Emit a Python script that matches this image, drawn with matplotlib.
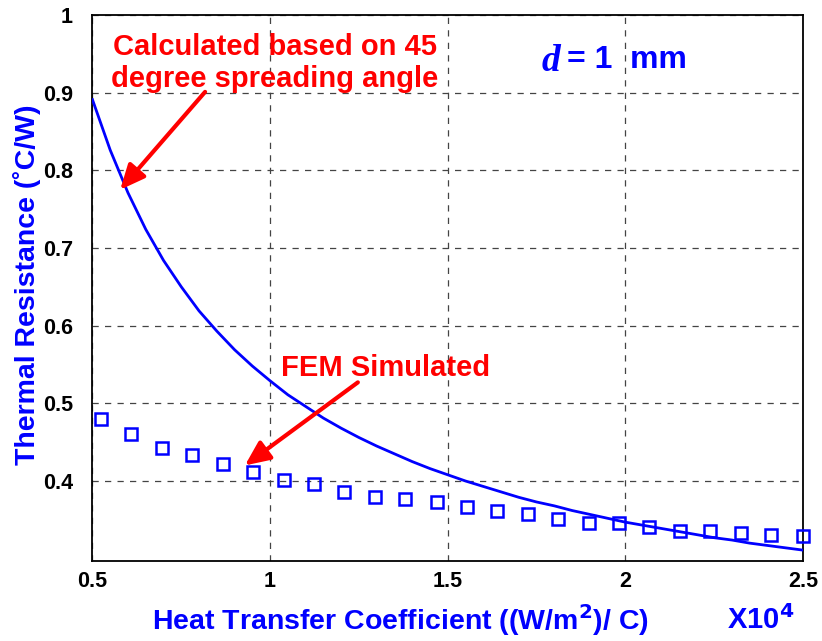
import matplotlib
matplotlib.use("Agg")
import matplotlib.pyplot as plt

plt.rcParams['font.family'] = ['Liberation Sans', 'DejaVu Sans']

# Calculated curve (45 degree spreading angle), h in units of 1e4 W/m^2/C
calc_h = [0.50, 0.55, 0.60, 0.65, 0.70, 0.75, 0.80, 0.85, 0.90, 0.95, 1.00,
          1.05, 1.10, 1.15, 1.20, 1.25, 1.30, 1.35, 1.40, 1.45, 1.50, 1.55,
          1.60, 1.65, 1.70, 1.75, 1.80, 1.85, 1.90, 1.95, 2.00, 2.05, 2.10,
          2.15, 2.20, 2.25, 2.30, 2.35, 2.40, 2.45, 2.50]
calc_r = [0.891, 0.826, 0.771, 0.724, 0.684, 0.650, 0.619, 0.593, 0.569, 0.548,
          0.529, 0.511, 0.496, 0.481, 0.468, 0.456, 0.445, 0.435, 0.425, 0.416,
          0.408, 0.400, 0.393, 0.386, 0.379, 0.373, 0.368, 0.362, 0.357, 0.352,
          0.347, 0.343, 0.339, 0.335, 0.331, 0.327, 0.324, 0.320, 0.317, 0.314,
          0.311]

# FEM simulated points
fem_h = [0.523, 0.608, 0.695, 0.780, 0.868, 0.951, 1.040, 1.124, 1.209, 1.295,
         1.380, 1.469, 1.554, 1.638, 1.726, 1.810, 1.898, 1.982, 2.067, 2.154,
         2.238, 2.326, 2.410, 2.499]
fem_r = [0.480, 0.461, 0.443, 0.434, 0.422, 0.412, 0.401, 0.396, 0.386, 0.380,
         0.377, 0.373, 0.366, 0.361, 0.357, 0.351, 0.346, 0.346, 0.341, 0.336,
         0.335, 0.333, 0.331, 0.329]

x_ticks = [0.5, 1, 1.5, 2, 2.5]
x_tick_labels = ["0.5", "1", "1.5", "2", "2.5"]
y_ticks = [0.4, 0.5, 0.6, 0.7, 0.8, 0.9, 1.0]
y_tick_labels = ["0.4", "0.5", "0.6", "0.7", "0.8", "0.9", "1"]

BLUE = "#0000ff"
RED = "#ff0000"

fig = plt.figure(figsize=(8.22, 6.41), dpi=100)
ax = fig.add_axes([0.1125, 0.1248, 0.8644, 0.8518])

ax.plot(calc_h, calc_r, color=BLUE, lw=2.0, zorder=3)
ax.plot(fem_h, fem_r, linestyle="none", marker="s", markersize=8.5,
        markerfacecolor="none", markeredgecolor=BLUE, markeredgewidth=1.8,
        zorder=4, clip_on=False)

ax.set_xlim(0.5, 2.5)
ax.set_ylim(0.297, 1.0)
ax.set_xticks(x_ticks)
ax.set_xticklabels(x_tick_labels)
ax.set_yticks(y_ticks)
ax.set_yticklabels(y_tick_labels)
ax.tick_params(axis="y", length=0, pad=14, labelsize=15.5)
ax.tick_params(axis="x", length=0, pad=7, labelsize=15.5)
for lab in ax.get_xticklabels() + ax.get_yticklabels():
    lab.set_fontweight("bold")

ax.grid(True, color="#444444", linestyle=(0, (5, 5)), linewidth=0.9)
for s in ax.spines.values():
    s.set_linewidth(1.3)
    s.set_color("black")

fig.text(0.033, 0.555, "Thermal Resistance (\u02daC/W)", color=BLUE,
         fontsize=20.5, fontweight="bold", rotation=90,
         ha="center", va="center")
fig.text(0.185, 0.033,
         "Heat Transfer Coefficient ((W/m$^{\\mathbf{2}}$)/ C)",
         color=BLUE, fontsize=20.5, fontweight="bold", ha="left",
         va="center")
fig.text(0.884, 0.033, "X10$^{\\mathbf{4}}$", color=BLUE, fontsize=21,
         fontweight="bold", ha="left", va="center")

# d = 1 mm
ax.text(0.632, 0.915, "d", transform=ax.transAxes, color=BLUE, fontsize=27,
        family="Liberation Serif", style="italic", fontweight="bold",
        ha="left", va="center")
ax.text(0.668, 0.918, "= 1  mm", transform=ax.transAxes, color=BLUE,
        fontsize=23, fontweight="bold", ha="left", va="center")

# Annotation texts
ax.text(1.013, 0.938, "Calculated based on 45\ndegree spreading angle",
        color=RED, fontsize=21, fontweight="bold", ha="center", va="center",
        linespacing=1.2)
ax.text(1.325, 0.545, "FEM Simulated", color=RED, fontsize=21,
        fontweight="bold", ha="center", va="center")

# Arrows pointing at the two data sets
arrow_kw = dict(arrowstyle="-|>,head_length=1.0,head_width=0.45",
                color=RED, lw=3.0, shrinkA=0, shrinkB=0, mutation_scale=15)
ax.annotate("", xy=(0.578, 0.775), xytext=(0.817, 0.901), arrowprops=arrow_kw)
ax.annotate("", xy=(0.929, 0.420), xytext=(1.247, 0.527), arrowprops=arrow_kw)

fig.savefig("out.png", dpi=100)
